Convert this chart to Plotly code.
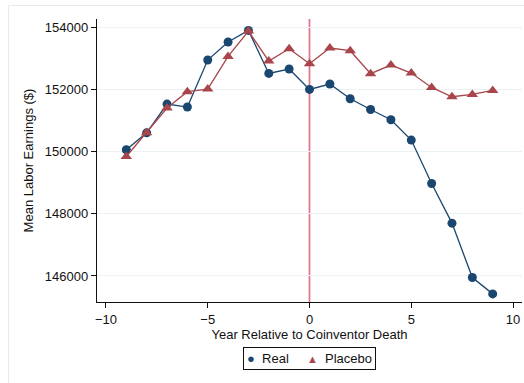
import plotly.graph_objects as go

years = list(range(-9, 10))
real = [150055, 150600, 151524, 151428, 152939, 153518, 153891, 152508, 152650, 151994,
        152167, 151695, 151350, 151020, 150367, 148972, 147698, 145950, 145425]
placebo = [149840, 150600, 151395, 151920, 152006, 153055, 153870, 152907, 153302, 152820,
           153325, 153238, 152499, 152778, 152521, 152058, 151759, 151833, 151962]
x_ticks = [-10, -5, 0, 5, 10]
y_ticks = [146000, 148000, 150000, 152000, 154000]

NAVY = "#1a476f"
MAROON = "#a8464c"
FONT = "Liberation Sans, Arial, Helvetica, sans-serif"

fig = go.Figure()
fig.add_trace(go.Scatter(x=years, y=real, mode="lines+markers", name="Real", showlegend=False,
                         line=dict(color=NAVY, width=1.3),
                         marker=dict(symbol="circle", size=9, color=NAVY)))
fig.add_trace(go.Scatter(x=years, y=placebo, mode="lines+markers", name="Placebo", showlegend=False,
                         line=dict(color=MAROON, width=1.3),
                         marker=dict(symbol="triangle-up", size=10, color=MAROON)))

fig.add_shape(type="line", xref="x", yref="paper", x0=0, x1=0, y0=0, y1=1,
              line=dict(color="#e07a8c", width=1.8), layer="below")
fig.add_shape(type="rect", xref="paper", yref="paper", x0=-0.208, x1=1.2, y0=-0.4, y1=1.048,
              line=dict(color="#e4eaea", width=1), fillcolor="rgba(0,0,0,0)", layer="below")

# legend box (markers only, as in the reference)
legend_text = (f'<span style="color:{NAVY};font-size:13px">●</span>  Real     '
               f'<span style="color:{MAROON};font-size:11px">▲</span>  Placebo')
fig.add_annotation(xref="paper", yref="paper", x=0.5, y=-0.159, xanchor="center", yanchor="top",
                   text=legend_text, showarrow=False, font=dict(size=13, color="#111"),
                   bordercolor="#111", borderwidth=1, borderpad=3, bgcolor="white")

fig.update_layout(
    width=524, height=383,
    margin=dict(l=97, r=2, t=19, b=81, autoexpand=False),
    paper_bgcolor="white", plot_bgcolor="white",
    font=dict(family=FONT, size=13, color="#111"),
    showlegend=False,
    xaxis=dict(range=[-10.44, 10.44], tickvals=x_ticks, showgrid=False, zeroline=False,
               showline=True, linecolor="#111", linewidth=1.3, ticks="outside",
               ticklen=5, tickcolor="#111", automargin=False, tickfont=dict(size=13),
               title=dict(text="Year Relative to Coinventor Death", standoff=4,
                          font=dict(size=13))),
    yaxis=dict(range=[145164, 154257], tickvals=y_ticks, showgrid=True,
               gridcolor="#eaf2f3", gridwidth=1, zeroline=False,
               showline=True, linecolor="#111", linewidth=1.3, ticks="outside",
               ticklen=5, tickcolor="#111", tickformat="d", automargin=False,
               tickfont=dict(size=13),
               title=dict(text="Mean Labor Earnings ($)", standoff=8, font=dict(size=13))),
)

fig.write_html("out.html", config={"displayModeBar": False},
               post_script="document.body.style.margin='0';document.body.style.overflow='hidden';")
